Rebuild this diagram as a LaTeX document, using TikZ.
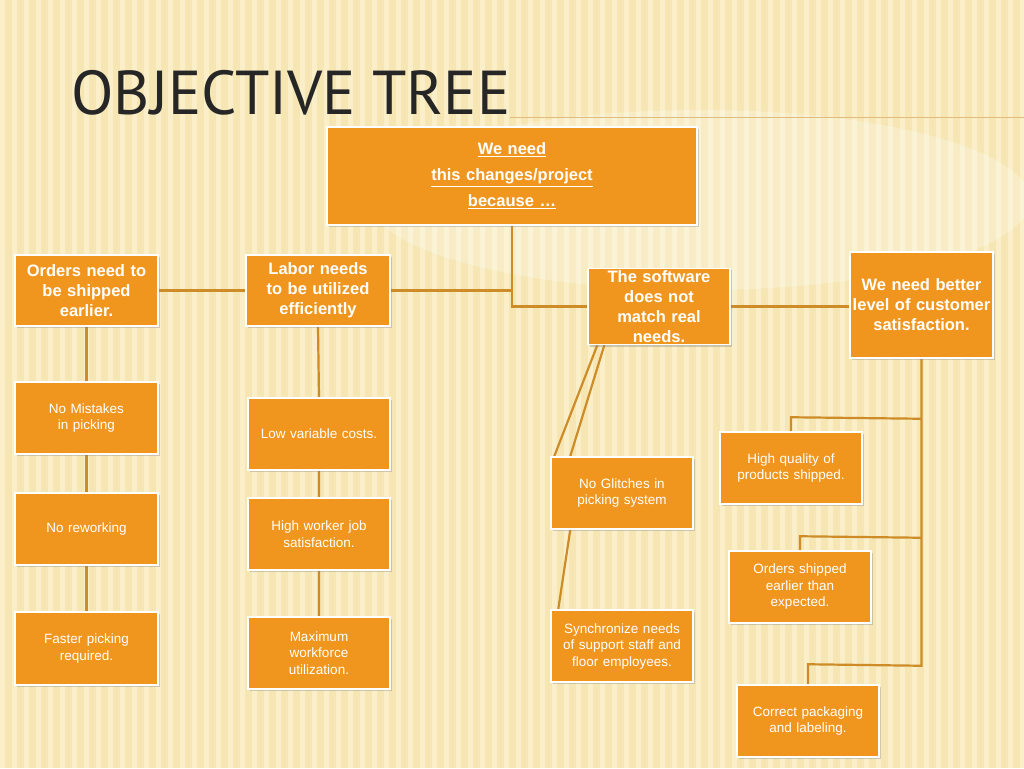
\documentclass[tikz,border=0pt]{standalone}
\usepackage{fontspec}
\setmainfont{Liberation Sans}
\newfontfamily\titlefont{PT Sans}
\usetikzlibrary{calc,shadows,backgrounds}
\definecolor{bg}{RGB}{246,230,180}
\definecolor{stripe}{RGB}{253,245,215}
\definecolor{box}{RGB}{240,150,30}
\definecolor{conn}{RGB}{205,140,40}
\lefthyphenmin=64
\tikzset{
 bx/.style={draw=white,line width=1.5pt,fill=box,text=white,align=center,inner sep=2pt,
   drop shadow={shadow xshift=2pt,shadow yshift=-2pt,opacity=0.35}},
 head/.style={bx,font=\bfseries\fontsize{16.5}{20}\selectfont},
 leaf/.style={bx,font=\fontsize{13.5}{16.5}\selectfont},
 cn/.style={draw=conn,line width=2.2pt}
}
\newcommand{\bxat}[8]{\node[#1,minimum width=#4-#2,minimum height=#5-#3,text width=#4-#2-#8] (#6) at ({(#2+#4)/2},{(#3+#5)/2}) {#7};}
\begin{document}
\begin{tikzpicture}[x=1pt,y=-1pt]
\useasboundingbox (0,0) rectangle (1024,768);
\node[anchor=west,font=\titlefont\fontsize{62}{62}\selectfont,text=black!85] (title) at (68,93) {OBJECTIVE TREE};
\coordinate (hl) at (1024,117);
\draw[conn!60,line width=0.8pt] (510,117) -- (hl);
\bxat{head}{327}{127}{697}{225}{top}{\underline{We need}\\[6pt]\underline{this changes/project}\\[6pt]\underline{because \dots}}{8}
\bxat{head}{15}{255}{158}{326}{A}{Orders need to be shipped earlier.}{14}
\bxat{head}{246}{255}{390}{326}{B}{Labor needs to be utilized efficiently}{6}
\bxat{head}{588}{270}{730}{343}{C}{The software does not match real needs.}{30}
\bxat{head}{850}{252}{993}{358}{D}{We need better level of customer satisfaction.}{4}
\bxat{leaf}{15}{382}{158}{454}{A1}{No Mistakes in picking\\[14pt]}{14}
\bxat{leaf}{15}{493}{158}{565}{A2}{No reworking}{14}
\bxat{leaf}{15}{612}{158}{685}{A3}{Faster picking required.}{24}
\bxat{leaf}{248}{398}{390}{470}{B1}{Low variable costs.}{4}
\bxat{leaf}{248}{498}{390}{570}{B2}{High worker job satisfaction.}{14}
\bxat{leaf}{248}{617}{390}{689}{B3}{Maximum workforce utilization.}{30}
\bxat{leaf}{551}{457}{693}{529}{C1}{No Glitches in picking system}{20}
\bxat{leaf}{551}{610}{693}{682}{C2}{Synchronize needs of support staff and floor employees.}{4}
\bxat{leaf}{720}{432}{862}{504}{D1}{High quality of products shipped.\\[8pt]}{8}
\bxat{leaf}{729}{551}{871}{623}{D2}{Orders shipped earlier than expected.}{24}
\bxat{leaf}{737}{685}{879}{757}{D3}{Correct packaging and labeling.}{14}
\begin{scope}[on background layer]
\fill[bg] (0,0) rectangle (1024,768);
\foreach \i in {0,12,...,1020} \fill[stripe,opacity=0.6] (\i,0) rectangle (\i+5,768);
\fill[white,opacity=0.25] (700,200) ellipse (330 and 90);
\draw[cn] (top.south) -- (top.south |- C.west) -- (C.west);
\draw[cn] (B.east) -- (B.east -| top.south);
\draw[cn] (A.east) -- (B.west);
\draw[cn] (C.east) -- (D.west |- C.east);
\draw[cn] (A.south) -- (A1.north) (A1.south) -- (A2.north) (A2.south) -- (A3.north);
\draw[cn] (B.south) -- (B1.north) (B1.south) -- (B2.north) (B2.south) -- (B3.north);
\draw[cn] ($(C.south west)+(10,0)$) -- ($(C1.north west)+(4,0)$);
\draw[cn] ($(C.south west)+(17,0)$) -- ($(C1.north west)+(20,0)$);
\draw[cn] ($(C1.south west)+(20,0)$) -- ($(C2.north west)+(8,0)$);
\draw[cn] (D.south) -- ($(D.south)+(0,307)$) -- ($(D3.north)+(0,-20)$) -- (D3.north);
\draw[cn] ($(D.south)+(0,60)$) -- ($(D1.north)+(0,-14)$) -- (D1.north);
\draw[cn] ($(D.south)+(0,179)$) -- ($(D2.north)+(0,-14)$) -- (D2.north);
\end{scope}
\end{tikzpicture}
\end{document}
